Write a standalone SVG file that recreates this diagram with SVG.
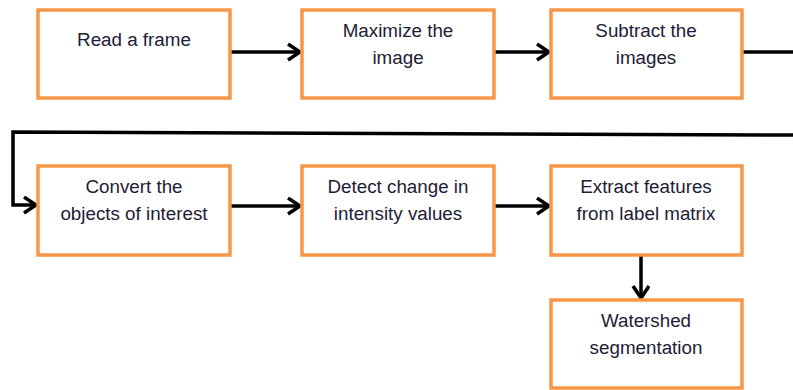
<svg xmlns="http://www.w3.org/2000/svg" width="793" height="390" viewBox="0 0 793 390">
<defs>
<style>
.box{fill:#fff;stroke:#F79646;stroke-width:3.5}
.lbl{font-family:"Liberation Sans",Arial,sans-serif;font-size:18.8px;fill:#1e2035;text-anchor:middle}
.con{fill:none;stroke:#000;stroke-width:3.5}
</style>
<marker id="ah" markerUnits="userSpaceOnUse" markerWidth="20" markerHeight="24" refX="13" refY="9" orient="auto">
<path d="M1,1 L13,9 L1,17" fill="none" stroke="#000" stroke-width="3.5" stroke-linejoin="miter"/>
</marker>
</defs>
<rect width="793" height="390" fill="#fff"/>
<g id="connectors">
<line class="con" x1="230" y1="52" x2="300" y2="52" marker-end="url(#ah)"/>
<line class="con" x1="494" y1="52" x2="549" y2="52" marker-end="url(#ah)"/>
<line class="con" x1="742" y1="52" x2="793" y2="52"/>
<polyline class="con" points="793,135 13,132 13,205 36,205" marker-end="url(#ah)"/>
<line class="con" x1="230" y1="206" x2="300" y2="206" marker-end="url(#ah)"/>
<line class="con" x1="494" y1="206" x2="549" y2="206" marker-end="url(#ah)"/>
<line class="con" x1="641" y1="255" x2="641" y2="298" marker-end="url(#ah)"/>
</g>
<g id="n1"><rect class="box" x="38" y="10" width="192" height="88"/><text class="lbl" x="134" y="46">Read a frame</text></g>
<g id="n2"><rect class="box" x="302" y="10" width="192" height="88"/><text class="lbl" x="398" y="37">Maximize the</text><text class="lbl" x="398" y="64">image</text></g>
<g id="n3"><rect class="box" x="551" y="10" width="191" height="88"/><text class="lbl" x="646" y="37">Subtract the</text><text class="lbl" x="646" y="64">images</text></g>
<g id="n4"><rect class="box" x="38" y="166" width="192" height="89"/><text class="lbl" x="134" y="193">Convert the</text><text class="lbl" x="134" y="220">objects of interest</text></g>
<g id="n5"><rect class="box" x="302" y="166" width="192" height="89"/><text class="lbl" x="398" y="193">Detect change in</text><text class="lbl" x="398" y="220">intensity values</text></g>
<g id="n6"><rect class="box" x="551" y="166" width="191" height="89"/><text class="lbl" x="646" y="193">Extract features</text><text class="lbl" x="646" y="220">from label matrix</text></g>
<g id="n7"><rect class="box" x="551" y="300" width="191" height="88"/><text class="lbl" x="646" y="327">Watershed</text><text class="lbl" x="646" y="354">segmentation</text></g>
</svg>
